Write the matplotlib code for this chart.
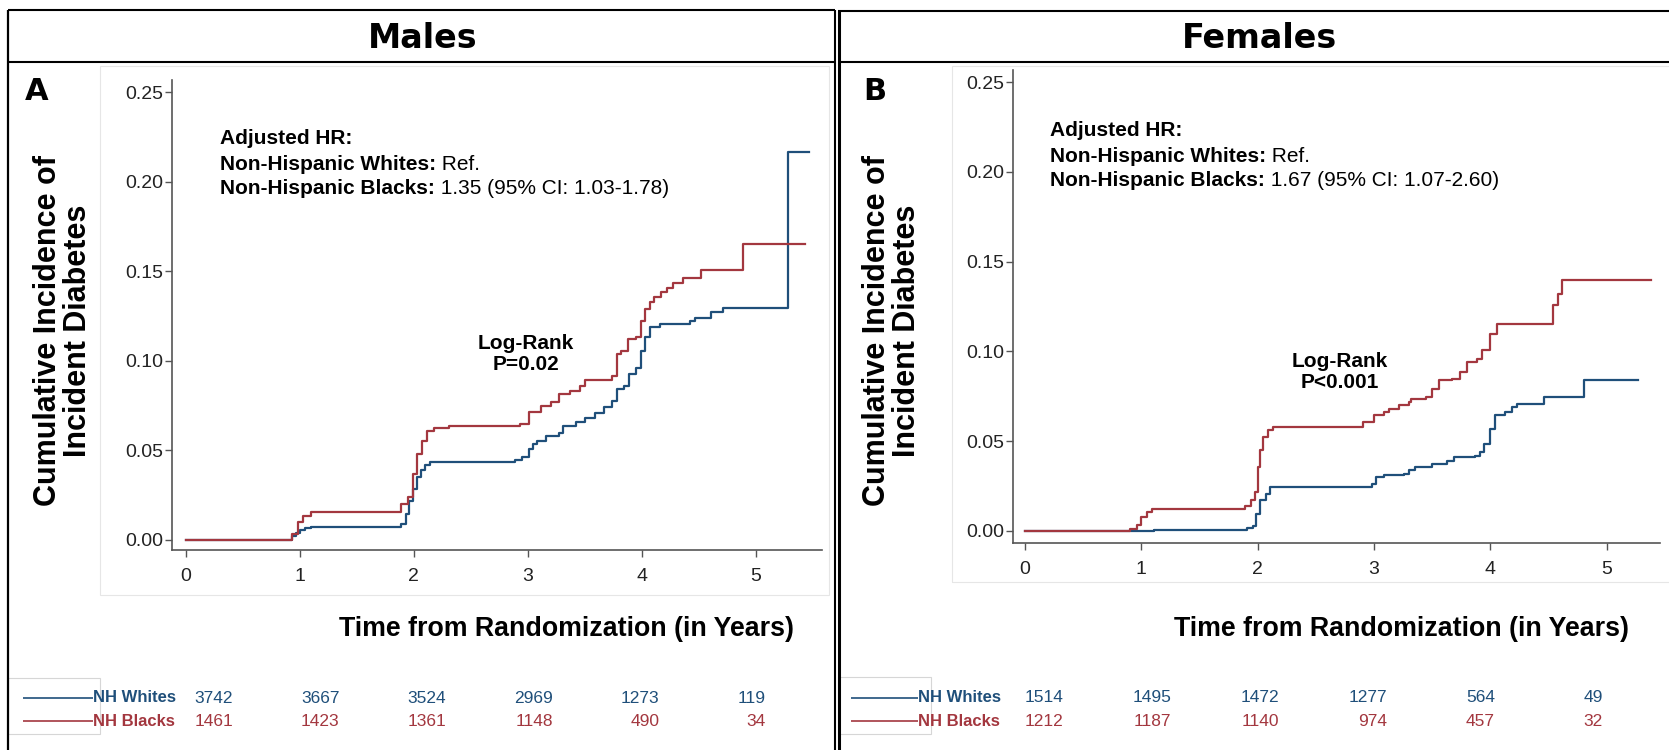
import matplotlib
matplotlib.use('Agg')
import matplotlib.pyplot as plt
from matplotlib.lines import Line2D
from matplotlib.patches import Rectangle

# ---------------- data ----------------
years = [0, 1, 2, 3, 4, 5]
yticks = [0.00, 0.05, 0.10, 0.15, 0.20, 0.25]
groups = ['NH Whites', 'NH Blacks']

# Males: cumulative incidence step curves (event time, cumulative incidence)
male_white_t = [0, 0.93, 0.97, 1.00, 1.05, 1.10, 1.89, 1.93, 1.96, 1.99, 2.03, 2.06, 2.10, 2.14,
                2.89, 2.95, 3.01, 3.05, 3.08, 3.16, 3.27, 3.31, 3.42, 3.50, 3.59, 3.67, 3.74,
                3.78, 3.84, 3.89, 3.95, 3.99, 4.03, 4.07, 4.16, 4.42, 4.47, 4.61, 4.71, 5.28]
male_white_ci = [0, 0.002, 0.004, 0.0055, 0.0066, 0.0072, 0.0090, 0.0145, 0.022, 0.0285, 0.035,
                 0.039, 0.042, 0.0433, 0.0446, 0.0465, 0.0505, 0.0535, 0.0555, 0.058, 0.0595,
                 0.0638, 0.0656, 0.068, 0.071, 0.074, 0.0777, 0.084, 0.086, 0.0926, 0.096,
                 0.1056, 0.113, 0.1186, 0.1204, 0.122, 0.124, 0.1272, 0.1296, 0.2167]
male_white_end = 5.47

male_black_t = [0, 0.93, 0.99, 1.03, 1.10, 1.89, 1.95, 1.99, 2.03, 2.07, 2.12, 2.18, 2.31, 2.93,
                3.01, 3.12, 3.20, 3.27, 3.37, 3.46, 3.50, 3.74, 3.78, 3.82, 3.88, 3.95, 3.99,
                4.03, 4.07, 4.11, 4.17, 4.22, 4.27, 4.36, 4.52, 4.89]
male_black_ci = [0, 0.0033, 0.0098, 0.0136, 0.0154, 0.0200, 0.0238, 0.0368, 0.0480, 0.0554,
                 0.0610, 0.0625, 0.0636, 0.0647, 0.0712, 0.0750, 0.0768, 0.0814, 0.0833, 0.0860,
                 0.0894, 0.0917, 0.1037, 0.1056, 0.1120, 0.1130, 0.1223, 0.1288, 0.1330, 0.1358,
                 0.1386, 0.1404, 0.1434, 0.1460, 0.1507, 0.1652]
male_black_end = 5.43

# Females
female_white_t = [0, 1.11, 1.91, 1.96, 1.99, 2.02, 2.07, 2.11, 2.98, 3.02, 3.09, 3.26, 3.30, 3.35,
                  3.50, 3.63, 3.69, 3.87, 3.91, 3.95, 4.00, 4.04, 4.13, 4.19, 4.23, 4.46, 4.81]
female_white_ci = [0, 0.0007, 0.0019, 0.0026, 0.0096, 0.0170, 0.0208, 0.0245, 0.0263, 0.0300,
                   0.0310, 0.0320, 0.0340, 0.0356, 0.0375, 0.0388, 0.0412, 0.0420, 0.0440,
                   0.0486, 0.0570, 0.0644, 0.0662, 0.0690, 0.0709, 0.0746, 0.0839]
female_white_end = 5.27

female_black_t = [0, 0.90, 0.96, 1.00, 1.05, 1.09, 1.89, 1.94, 1.98, 2.00, 2.02, 2.045, 2.09,
                  2.13, 2.91, 3.00, 3.09, 3.13, 3.22, 3.30, 3.32, 3.45, 3.50, 3.56, 3.67, 3.74,
                  3.80, 3.89, 3.93, 4.00, 4.06, 4.54, 4.58, 4.62]
female_black_ci = [0, 0.0013, 0.0032, 0.0078, 0.0106, 0.0124, 0.0137, 0.0170, 0.0217, 0.0356,
                   0.0449, 0.0523, 0.0560, 0.0579, 0.0607, 0.0644, 0.0662, 0.0680, 0.0700,
                   0.0718, 0.0733, 0.0746, 0.0792, 0.0842, 0.0848, 0.0885, 0.0941, 0.0959,
                   0.1006, 0.1098, 0.1154, 0.1256, 0.1320, 0.1395]
female_black_end = 5.38

# Numbers at risk
male_white_risk = [3742, 3667, 3524, 2969, 1273, 119]
male_black_risk = [1461, 1423, 1361, 1148, 490, 34]
female_white_risk = [1514, 1495, 1472, 1277, 564, 49]
female_black_risk = [1212, 1187, 1140, 974, 457, 32]

# ---------------- styling ----------------
BLUE = '#1f4f7a'
RED = '#a3373f'
AXC = '#555555'
W, H = 1669, 750
plt.rcParams['font.family'] = ['Liberation Sans', 'DejaVu Sans']

fig = plt.figure(figsize=(W / 100, H / 100), dpi=100)


def fx(p):
    return p / W


def fy(p):
    return 1 - p / H


def px_axes(l, t, r, b):
    return fig.add_axes([fx(l), fy(b), fx(r) - fx(l), fy(t) - fy(b)])


def fig_line(x0, y0, x1, y1, lw=1.5, color='black'):
    fig.add_artist(Line2D([fx(x0), fx(x1)], [fy(y0), fy(y1)], lw=lw, color=color,
                          transform=fig.transFigure, solid_capstyle='butt'))


def fig_rect(l, t, r, b, color='#e6e6e6', lw=0.8):
    fig.add_artist(Rectangle((fx(l), fy(b)), fx(r) - fx(l), fy(t) - fy(b), fill=False,
                             edgecolor=color, lw=lw, transform=fig.transFigure))


# ---------------- frame ----------------
fig_line(8, 10, 835, 10, lw=1.5)
fig_line(838, 11, W, 11, lw=1.5)
fig_line(8, 62, 835, 62, lw=1.5)
fig_line(838, 62, W, 62, lw=1.5)
fig_line(8, 10, 8, H, lw=1.6)
fig_line(835, 10, 835, H, lw=1.5)
fig_line(838.5, 11, 838.5, H, lw=2.2)

fig.text(fx(423), fy(39), 'Males', family='DejaVu Sans', weight='bold', fontsize=24,
         ha='center', va='center')
fig.text(fx(1259), fy(39), 'Females', family='DejaVu Sans', weight='bold', fontsize=24,
         ha='center', va='center')

# faint plot-region boxes
fig_rect(100, 66, 829, 595)
fig_rect(952, 66, W + 5, 582)


def panel(letter, letter_xy, ax_box, xlim, ylim, curves, hr_xy, hr_text, lr_xy, lr_text,
          ylab_xy, xlab_xy, table):
    fig.text(fx(letter_xy[0]), fy(letter_xy[1]), letter, family='DejaVu Sans',
             weight='bold', fontsize=22, ha='center', va='center')
    ax = px_axes(*ax_box)
    for t, ci, end, col in curves:
        ax.step(list(t) + [end], list(ci) + [ci[-1]], where='post', color=col, lw=1.6)
    ax.set_xlim(*xlim)
    ax.set_ylim(*ylim)
    ax.set_xticks(years)
    ax.set_yticks(yticks)
    ax.set_yticklabels([f'{v:.2f}' for v in yticks])
    for s in ['top', 'right']:
        ax.spines[s].set_visible(False)
    for s in ['left', 'bottom']:
        ax.spines[s].set_color(AXC)
        ax.spines[s].set_linewidth(1.2)
    ax.tick_params(axis='both', colors=AXC, labelcolor='#222222', labelsize=14,
                   length=5, width=1.0)
    ax.tick_params(axis='y', pad=1.5)
    ax.tick_params(axis='x', pad=8)
    ax.patch.set_alpha(0)

    # hazard ratio annotation
    x0, ys = hr_xy
    fig.text(fx(x0), fy(ys[0]), hr_text[0], weight='bold', fontsize=15, va='center')
    for (bold, reg), yy in zip(hr_text[1:], ys[1:]):
        tb = fig.text(fx(x0), fy(yy), bold, weight='bold', fontsize=15, va='center')
        ax.annotate(reg, xy=(1, 0), xycoords=tb, va='bottom', ha='left', fontsize=15,
                    annotation_clip=False)
    fig.text(fx(lr_xy[0]), fy(lr_xy[1]), lr_text, weight='bold', fontsize=15,
             ha='center', va='center', linespacing=1.15)

    fig.text(fx(ylab_xy[0]), fy(ylab_xy[1]), 'Cumulative Incidence of\nIncident Diabetes',
             rotation=90, weight='bold', fontsize=22, ha='center', va='center',
             multialignment='center', linespacing=1.0)
    fig.text(fx(xlab_xy[0]), fy(xlab_xy[1]), 'Time from Randomization (in Years)',
             weight='bold', fontsize=19.3, ha='center', va='center')

    # risk table
    (box, line_x, lab_x, num_l, num_r, rows_y, risks) = table
    fig_rect(*box, color='#d6d6d6', lw=0.8)
    tax = px_axes(num_l, box[1], num_r, box[3])
    tax.set_xlim(0, 5)
    tax.set_ylim(box[3], box[1])
    tax.axis('off')
    for g, col, yy, risk in zip(groups, [BLUE, RED], rows_y, risks):
        fig_line(line_x[0], yy, line_x[1], yy, lw=1.2, color=col)
        fig.text(fx(lab_x), fy(yy), g, color=col, weight='bold', fontsize=12,
                 ha='left', va='center')
        for yr, n in zip(years, risk):
            tax.text(yr, yy, str(n), color=col, fontsize=12.5, ha='right', va='center')
    return ax


panel('A', (37, 92), (172, 80, 822, 550), (-0.119, 5.58), (-0.0056, 0.2567),
      [(male_white_t, male_white_ci, male_white_end, BLUE),
       (male_black_t, male_black_ci, male_black_end, RED)],
      (220, [138, 164, 189]),
      ['Adjusted HR:', ('Non-Hispanic Whites:', ' Ref.'),
       ('Non-Hispanic Blacks:', ' 1.35 (95% CI: 1.03-1.78)')],
      (526, 354), 'Log-Rank\nP=0.02',
      (63, 331), (566, 629),
      ((8, 678, 100, 734), (23, 93), 93, 233, 766, (698, 721),
       (male_white_risk, male_black_risk)))

panel('B', (875, 92), (1013, 70, 1660, 543), (-0.103, 5.46), (-0.0067, 0.2567),
      [(female_white_t, female_white_ci, female_white_end, BLUE),
       (female_black_t, female_black_ci, female_black_end, RED)],
      (1050, [131, 156, 181]),
      ['Adjusted HR:', ('Non-Hispanic Whites:', ' Ref.'),
       ('Non-Hispanic Blacks:', ' 1.67 (95% CI: 1.07-2.60)')],
      (1340, 372), 'Log-Rank\nP<0.001',
      (892, 331), (1401, 629),
      ((838, 677, 931, 734), (851, 918), 918, 1063, 1603, (698, 721),
       (female_white_risk, female_black_risk)))

fig.savefig('out.png', dpi=100)
